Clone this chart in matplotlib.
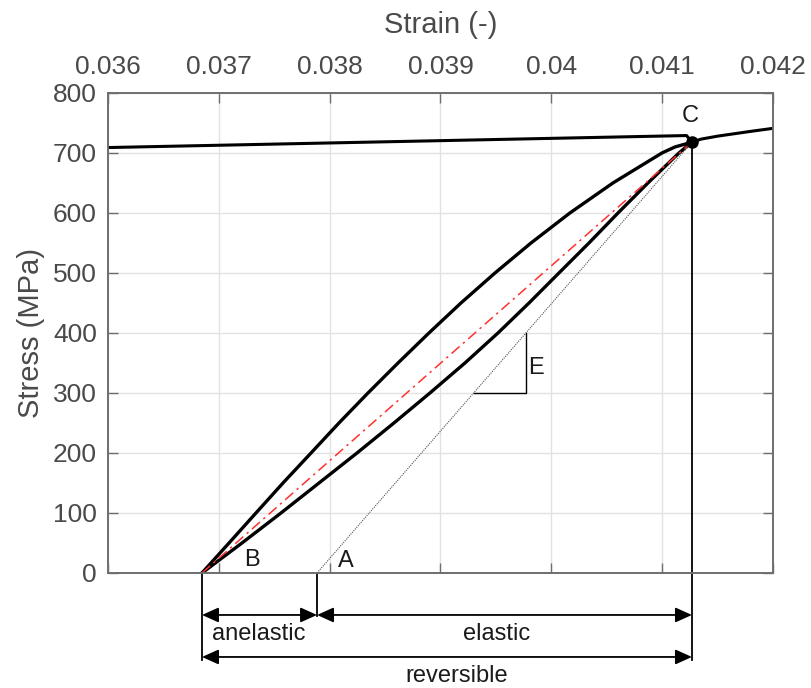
import matplotlib
matplotlib.use("agg")
import matplotlib.pyplot as plt

plt.rcParams["font.family"] = ["Liberation Sans", "DejaVu Sans"]

# axis ticks
strain_ticks = [0.036, 0.037, 0.038, 0.039, 0.040, 0.041, 0.042]
strain_tick_labels = ["0.036", "0.037", "0.038", "0.039", "0.04", "0.041", "0.042"]
stress_ticks = [0, 100, 200, 300, 400, 500, 600, 700, 800]

# unload/reload loop between B and C
upper_stress = [0, 50, 100, 150, 200, 250, 300, 350, 400, 450, 500,
                550, 600, 650, 700, 710, 718]
upper_strain = [0.036848, 0.037092, 0.037335, 0.037579, 0.037832, 0.038084,
                0.038346, 0.038617, 0.038896, 0.039185, 0.039492, 0.039817,
                0.040168, 0.040556, 0.040999, 0.041116, 0.041269]
lower_stress = [0, 50, 100, 150, 200, 250, 300, 350, 400, 450, 500,
                550, 600, 650, 700, 718]
lower_strain = [0.036848, 0.037209, 0.037561, 0.037904, 0.038247, 0.038580,
                0.038905, 0.039221, 0.039519, 0.039799, 0.040069, 0.040340,
                0.040602, 0.040872, 0.041152, 0.041269]

# monotonic curve before and after point C
prior_strain = [0.0360, 0.04122, 0.04127]
prior_stress = [709, 729, 718]
after_strain = [0.04127, 0.04135, 0.04150, 0.04180, 0.04200]
after_stress = [718, 723, 728, 736, 741]

# key points
B = (0.036848, 0)
A = (0.037886, 0)
C = (0.041269, 718)

# E slope triangle (on the elastic line)
tri_strain = [0.039300, 0.039771, 0.039771]
tri_stress = [300, 300, 400]

gray = "#4a4a4a"
ink = "#1a1a1a"

fig = plt.figure(figsize=(8.11, 6.88), dpi=100)
ax = fig.add_axes([0.1332, 0.1672, 0.8199, 0.6977])

ax.plot(prior_strain, prior_stress, color="k", lw=2.2, solid_capstyle="butt")
ax.plot(after_strain, after_stress, color="k", lw=2.2)
ax.plot(upper_strain, upper_stress, color="k", lw=2.4, solid_joinstyle="round")
ax.plot(lower_strain, lower_stress, color="k", lw=2.4, solid_joinstyle="round")
ax.plot([B[0], C[0]], [B[1], C[1]], color="#ff3030", lw=1.1, ls=(0, (7, 3, 1.5, 3)))
ax.plot([A[0], C[0]], [A[1], C[1]], color="#555555", lw=0.8, ls=(0, (1, 1)))
ax.plot(tri_strain, tri_stress, color="k", lw=1.0)
ax.plot([C[0]], [C[1]], "o", color="k", ms=8, zorder=5)

# labels of points
ax.text(0.04125, 762, "C", fontsize=17, color=ink, ha="center", va="center")
ax.text(0.03730, 22, "B", fontsize=17, color=ink, ha="center", va="center")
ax.text(0.03815, 20, "A", fontsize=17, color=ink, ha="center", va="center")
ax.text(0.03986, 342, "E", fontsize=17, color=ink, ha="center", va="center")

# dimension lines below the axes
ax.plot([B[0], B[0]], [0, -145], color="k", lw=1.3, clip_on=False)
ax.plot([A[0], A[0]], [0, -72], color="k", lw=1.3, clip_on=False)
ax.plot([C[0], C[0]], [C[1], -145], color="k", lw=1.3, clip_on=False)

arrow = dict(arrowstyle="<|-|>,head_length=1.0,head_width=0.45", color="k",
             lw=1.3, shrinkA=0, shrinkB=0, mutation_scale=10)
ax.annotate("", xy=(A[0], -70), xytext=(B[0], -70), arrowprops=arrow,
            annotation_clip=False)
ax.annotate("", xy=(C[0], -70), xytext=(A[0], -70), arrowprops=arrow,
            annotation_clip=False)
ax.annotate("", xy=(C[0], -140), xytext=(B[0], -140), arrowprops=arrow,
            annotation_clip=False)
ax.text(0.03736, -102, "anelastic", fontsize=17, color=ink, ha="center", va="center")
ax.text(0.03951, -102, "elastic", fontsize=17, color=ink, ha="center", va="center")
ax.text(0.03915, -172, "reversible", fontsize=17, color=ink, ha="center", va="center")

ax.set_xlim(0.036, 0.042)
ax.set_ylim(0, 800)
ax.set_xticks(strain_ticks)
ax.set_xticklabels(strain_tick_labels)
ax.set_yticks(stress_ticks)
ax.xaxis.tick_top()
ax.xaxis.set_label_position("top")
ax.tick_params(axis="both", direction="in", length=7, width=1.0, color="#6e6e6e",
               labelsize=19, labelcolor=gray, top=True, bottom=True,
               left=True, right=True)
ax.tick_params(axis="x", pad=10)
ax.tick_params(axis="y", pad=8)
ax.set_xlabel("Strain (-)", fontsize=21, color=gray, labelpad=16)
ax.set_ylabel("Stress (MPa)", fontsize=21, color=gray, labelpad=6)
for s in ax.spines.values():
    s.set_color("#6e6e6e")
    s.set_linewidth(1.4)
ax.grid(True, color="#e2e2e2", lw=1.0)
ax.set_axisbelow(True)

fig.savefig("out.png", dpi=100)
